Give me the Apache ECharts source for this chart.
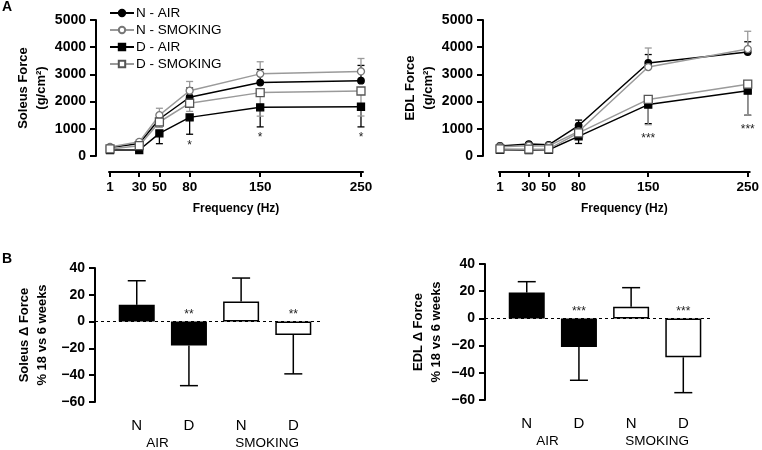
<!DOCTYPE html>
<html><head><meta charset="utf-8">
<script src="https://cdn.jsdelivr.net/npm/echarts@6/dist/echarts.min.js"></script>
<style>html,body{margin:0;padding:0;background:#fff}#c{width:762px;height:450px}</style>
</head><body><div id="c"></div>
<script>
// ---------- DATA ----------
const freq = [1, 30, 50, 80, 150, 250];
const freqTicks = [1, 30, 50, 80, 150, 250];
const forceTicks = [0, 1000, 2000, 3000, 4000, 5000];
const seriesNames = ['N - AIR', 'N - SMOKING', 'D - AIR', 'D - SMOKING'];

// Soleus force (g/cm2)
const soleusNAir = [310, 460, 1360, 2160, 2700, 2770];
const soleusNSmoking = [330, 520, 1500, 2400, 3020, 3110];
const soleusDAir = [220, 220, 830, 1420, 1790, 1810];
const soleusDSmoking = [260, 380, 1250, 1940, 2330, 2390];
const soleusNAirErr = [40, 60, 150, 340, 480, 560];
const soleusNSmokingErr = [40, 80, 255, 340, 445, 475];
const soleusDAirErr = [30, 40, 377, 620, 720, 740];
const soleusDSmokingErr = [30, 60, 200, 300, 865, 920];
const soleusSig = ['', '', '', '*', '*', '*'];

// EDL force (g/cm2)
const edlNAir = [370, 440, 410, 1120, 3420, 3820];
const edlNSmoking = [340, 380, 370, 900, 3270, 3930];
const edlDAir = [230, 220, 230, 720, 1890, 2400];
const edlDSmoking = [260, 250, 260, 850, 2080, 2640];
const edlNAirErr = [40, 50, 40, 200, 310, 380];
const edlNSmokingErr = [30, 40, 40, 250, 700, 655];
const edlDAirErr = [30, 30, 30, 260, 700, 900];
const edlDSmokingErr = [30, 30, 30, 200, 930, 1140];
const edlSig = ['', '', '', '', '***', '***'];

// Panel B: % change 18 vs 6 weeks
const groups = ['N', 'D', 'N', 'D'];
const groupLabels = ['AIR', 'SMOKING'];
const deltaTicks = [-60, -40, -20, 0, 20, 40];
const soleusDelta = [12.5, -17.8, 15, -10];
const soleusDeltaErr = [18, 30, 17.5, 29];
const soleusDeltaSig = ['', '**', '', '**'];
const edlDelta = [19, -21, 8.6, -28.6];
const edlDeltaErr = [8, 24.5, 14, 26];
const edlDeltaSig = ['', '***', '', '***'];

// ---------- STYLE ----------
const FF = "'Liberation Sans', Arial, Helvetica, sans-serif";
const BLACK = '#000';
const GREY = '#9a9a9a';
const seriesStyle = [
  {line: BLACK, fill: BLACK, border: BLACK, symbol: 'circle', size: 6.5, dir: 1},
  {line: GREY, fill: '#fff', border: '#777', symbol: 'circle', size: 7, dir: 1},
  {line: BLACK, fill: BLACK, border: BLACK, symbol: 'rect', size: 7, dir: -1},
  {line: GREY, fill: '#fff', border: '#555', symbol: 'rect', size: 8, dir: -1}
];
const barFill = [
  {color: BLACK, borderColor: BLACK, borderWidth: 1.5},
  {color: BLACK, borderColor: BLACK, borderWidth: 1.5},
  {color: '#fff', borderColor: BLACK, borderWidth: 1.5},
  {color: '#fff', borderColor: BLACK, borderWidth: 1.5}
];

function errRender(color, capHalf, lw) {
  return function (params, api) {
    const x = api.value(0), a = api.value(1), b = api.value(2);
    const p1 = api.coord([x, a]), p2 = api.coord([x, b]);
    const style = {stroke: color, lineWidth: lw};
    return {type: 'group', children: [
      {type: 'line', shape: {x1: p1[0], y1: p1[1], x2: p2[0], y2: p2[1]}, style: style},
      {type: 'line', shape: {x1: p2[0] - capHalf, y1: p2[1], x2: p2[0] + capHalf, y2: p2[1]}, style: style}
    ]};
  };
}
function starRender(texts, dy, size) {
  return function (params, api) {
    const p = api.coord([api.value(0), api.value(1)]);
    return {type: 'text', x: p[0], y: p[1] + dy, style: {
      text: texts[params.dataIndex], textAlign: 'center', textVerticalAlign: 'middle',
      align: 'center', verticalAlign: 'middle', fontSize: size, fontFamily: FF, fill: '#222'}};
  };
}

const axisLineS = {show: true, onZero: false, lineStyle: {color: BLACK, width: 2}};
const tickS = {show: true, length: 6, lineStyle: {color: BLACK, width: 2}};

function forceY(grid, name, offset) {
  return {gridIndex: grid, type: 'value', min: forceTicks[0], max: forceTicks[forceTicks.length - 1],
    interval: forceTicks[1] - forceTicks[0], offset: offset,
    axisLine: axisLineS, axisTick: tickS, splitLine: {show: false},
    axisLabel: {fontFamily: FF, fontWeight: 'bold', fontSize: 14, color: BLACK, margin: 10,
      formatter: v => String(v)},
    name: name, nameLocation: 'middle', nameRotate: 90, nameGap: 46,
    nameTextStyle: {fontFamily: FF, fontSize: 13, fontWeight: 'bold', color: BLACK, lineHeight: 18}};
}
function freqX(grid) {
  return {gridIndex: grid, type: 'value', min: 0, max: 252, offset: 16, position: 'bottom',
    axisLine: axisLineS, splitLine: {show: false},
    axisTick: {show: true, customValues: freqTicks, length: 5, lineStyle: {color: BLACK, width: 2}},
    axisLabel: {customValues: freqTicks, fontFamily: FF, fontWeight: 'bold', fontSize: 13.5, color: BLACK, margin: 8,
      formatter: v => String(v)},
    name: 'Frequency (Hz)', nameLocation: 'middle', nameGap: 31,
    nameTextStyle: {fontFamily: FF, fontWeight: 'bold', fontSize: 12, color: BLACK}};
}
function deltaY(grid, name, gap) {
  return {gridIndex: grid, type: 'value', min: deltaTicks[0], max: deltaTicks[deltaTicks.length - 1],
    interval: deltaTicks[1] - deltaTicks[0],
    axisLine: axisLineS, axisTick: tickS, splitLine: {show: false},
    axisLabel: {fontFamily: FF, fontWeight: 'bold', fontSize: 14, color: BLACK, margin: 10,
      formatter: v => (v < 0 ? '\u2212' + Math.abs(v) : String(v))},
    name: name, nameLocation: 'middle', nameRotate: 90, nameGap: gap,
    nameTextStyle: {fontFamily: FF, fontSize: 13, fontWeight: 'bold', color: BLACK, lineHeight: 18}};
}
function catX(grid) {
  return {gridIndex: grid, type: 'value', min: 0.2, max: 4.55, position: 'bottom',
    axisLine: {show: false, onZero: false}, axisTick: {show: false}, splitLine: {show: false},
    axisLabel: {customValues: [1, 2, 3, 4], formatter: v => groups[Math.round(v) - 1],
      fontFamily: FF, fontSize: 15, color: BLACK, margin: 16}};
}
function groupX(grid) {
  return {gridIndex: grid, type: 'value', min: 0.2, max: 4.55, position: 'bottom',
    axisLine: {show: false, onZero: false}, axisTick: {show: false}, splitLine: {show: false},
    axisLabel: {customValues: [1.4, 3.5], formatter: v => (v < 2.5 ? groupLabels[0] : groupLabels[1]),
      fontFamily: FF, fontSize: 13.5, color: BLACK, margin: 34}};
}

function forceSeries(axis, sets, errs, sig, starDy) {
  const out = [];
  sets.forEach((vals, k) => {
    const st = seriesStyle[k];
    out.push({type: 'custom', xAxisIndex: axis, yAxisIndex: axis, z: 2, silent: true,
      renderItem: errRender(st.line, 3.5, 1.3),
      data: freq.map((f, i) => [f, vals[i], vals[i] + st.dir * errs[k][i]])});
  });
  sets.forEach((vals, k) => {
    const st = seriesStyle[k];
    out.push({name: seriesNames[k], type: 'line', xAxisIndex: axis, yAxisIndex: axis, z: 3 + k,
      symbol: st.symbol, symbolSize: st.size, showSymbol: true,
      lineStyle: {color: st.line, width: 1.5},
      itemStyle: {color: st.fill, borderColor: st.border, borderWidth: 1.3},
      data: freq.map((f, i) => [f, vals[i]])});
  });
  const dAir = sets[2], dAirErr = errs[2];
  const idx = sig.map((s, i) => i).filter(i => sig[i] !== '');
  out.push({type: 'custom', xAxisIndex: axis, yAxisIndex: axis, z: 5, silent: true,
    renderItem: starRender(idx.map(i => sig[i]), starDy, 12),
    data: idx.map(i => [freq[i], Math.min(dAir[i] - dAirErr[i], sets[3][i] - errs[3][i])])});
  return out;
}

function deltaSeries(xi, yi, vals, errs, sig) {
  const idx = sig.map((s, i) => i).filter(i => sig[i] !== '');
  return [
    {type: 'bar', xAxisIndex: xi, yAxisIndex: yi, barWidth: 36, z: 2,
      data: vals.map((v, i) => ({value: [i + 1, v], itemStyle: barFill[i]})),
      markLine: {silent: true, symbol: 'none', label: {show: false},
        lineStyle: {type: [3, 3], color: BLACK, width: 1}, data: [{yAxis: 0}]}},
    {type: 'custom', xAxisIndex: xi, yAxisIndex: yi, z: 3, silent: true,
      renderItem: errRender(BLACK, 9, 1.5),
      data: vals.map((v, i) => [i + 1, v, v + Math.sign(v) * errs[i]])},
    {type: 'custom', xAxisIndex: xi, yAxisIndex: yi, z: 4, silent: true,
      renderItem: starRender(idx.map(i => sig[i]), -7, 12),
      data: idx.map(i => [i + 1, 0])}
  ];
}

const option = {
  animation: false,
  backgroundColor: '#fff',
  title: [
    {text: 'A', left: 2, top: 0, padding: 0, textStyle: {fontFamily: FF, fontSize: 14, fontWeight: 'bold', color: BLACK}},
    {text: 'B', left: 2, top: 252, padding: 0, textStyle: {fontFamily: FF, fontSize: 14, fontWeight: 'bold', color: BLACK}}
  ],
  legend: {orient: 'vertical', left: 109, top: 6, padding: 0, itemWidth: 24, itemHeight: 8, itemGap: 3,
    selectedMode: false, data: seriesNames,
    textStyle: {fontFamily: FF, fontSize: 13.5, color: BLACK, lineHeight: 14, padding: [0, 0, 0, -3]}},
  grid: [
    {left: 109, top: 20, width: 254, height: 136},
    {left: 499, top: 20, width: 254, height: 136},
    {left: 95, top: 268, width: 227, height: 135},
    {left: 485, top: 264, width: 227, height: 136}
  ],
  xAxis: [freqX(0), freqX(1), catX(2), groupX(2), catX(3), groupX(3)],
  yAxis: [
    forceY(0, 'Soleus Force\n(g/cm\u00b2)', 13),
    forceY(1, 'EDL Force\n(g/cm\u00b2)', 16),
    deltaY(2, 'Soleus \u0394 Force\n% 18 vs 6 weeks', 44),
    deltaY(3, 'EDL \u0394 Force\n% 18 vs 6 weeks', 40)
  ],
  series: [].concat(
    forceSeries(0, [soleusNAir, soleusNSmoking, soleusDAir, soleusDSmoking],
      [soleusNAirErr, soleusNSmokingErr, soleusDAirErr, soleusDSmokingErr], soleusSig, 11),
    forceSeries(1, [edlNAir, edlNSmoking, edlDAir, edlDSmoking],
      [edlNAirErr, edlNSmokingErr, edlDAirErr, edlDSmokingErr], edlSig, 14),
    deltaSeries(2, 2, soleusDelta, soleusDeltaErr, soleusDeltaSig),
    deltaSeries(4, 3, edlDelta, edlDeltaErr, edlDeltaSig)
  )
};
const chart = echarts.init(document.getElementById('c'), null, {renderer: 'canvas'});
chart.setOption(option);
</script>
</body></html>
